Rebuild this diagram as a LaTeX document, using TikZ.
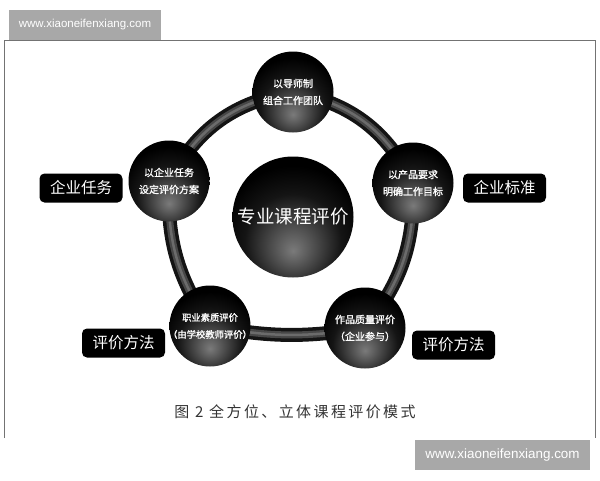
\documentclass[tikz,border=0pt]{standalone}
\usepackage{fontspec}
\setmainfont{Noto Sans CJK SC}
\newfontfamily\capfont[LetterSpace=16]{Noto Sans CJK SC}
\newfontfamily\ballfont[FakeBold=1.2]{Noto Sans CJK SC}
\newfontfamily\wmfont{Liberation Sans}
\usetikzlibrary{backgrounds}
\pgfdeclareradialshading{sphereshade}{\pgfpoint{0bp}{-14bp}}{color(0bp)=(black!52); color(6bp)=(black!64); color(20bp)=(black!92); color(30bp)=(black); color(80bp)=(black)}
\begin{document}
\begin{tikzpicture}[x=1pt,y=-1pt,
    sphere/.style={circle,shading=sphereshade,text=white,align=center,inner sep=0pt,minimum size=81pt,font=\ballfont\fontsize{10}{17}\selectfont},
    hub/.style={sphere,minimum size=121pt,font=\fontsize{18.5}{20}\selectfont},
    tagbox/.style={fill=black,rounded corners=5pt,text=white,inner sep=0pt,minimum width=83pt,minimum height=29pt,font=\fontsize{15.5}{16}\selectfont},
    ringline/.style={line width=14pt,black!92},
    watermark/.style={fill=black!34,text=white,inner sep=0pt,minimum height=30pt}]
    \useasboundingbox (0,0) rectangle (600,480);

    % spheres
    \node[hub]    (eval)     at (293,217) {专业课程评价};
    \node[sphere] (team)     at (293,92)  {以导师制\\组合工作团队};
    \node[sphere] (goal)     at (413,183) {以产品要求\\明确工作目标};
    \node[sphere] (quality)  at (365,328) {作品质量评价\\（企业参与）};
    \node[sphere,inner sep=-5pt,font=\ballfont\fontsize{9.3}{17}\selectfont]
                  (literacy) at (210,326) {职业素质评价\\（由学校教师评价）};
    \node[sphere] (task)     at (169,181) {以企业任务\\设定评价方案};

    % tags
    \node[tagbox] (taskbox) at (81,188)    {企业任务};
    \node[tagbox] (stdbox)  at (504.5,188) {企业标准};
    \node[tagbox] (methodL) at (123.5,343) {评价方法};
    \node[tagbox] (methodR) at (453.5,345) {评价方法};

    \node[text=black!80] (caption) at (295,412)
        {\capfont\fontsize{15}{16}\selectfont 图 2 全方位、立体课程评价模式};

    % watermarks
    \node[watermark,minimum width=152pt,font=\wmfont\fontsize{11.5}{12}\selectfont]
        (wmtop) at (85,25) {www.xiaoneifenxiang.com};
    \node[watermark,minimum width=175pt,font=\wmfont\fontsize{13.4}{14}\selectfont]
        (wmbottom) at (502.5,455) {www.xiaoneifenxiang.com};

    \begin{scope}[on background layer]
        \draw[black!55,line width=0.8pt] (4,438) -- (4,40.5) -- (595,40.5) -- (595,438);
        \draw[ringline] (team.center) to[bend left=26] (goal.center)
                        to[bend left=20] (quality.center)
                        to[bend left=10] (literacy.center)
                        to[bend left=18] (task.center)
                        to[bend left=26] (team.center);
        \draw[line width=7pt,black!72] (team.center) to[bend left=26] (goal.center)
                        to[bend left=20] (quality.center)
                        to[bend left=10] (literacy.center)
                        to[bend left=18] (task.center)
                        to[bend left=26] (team.center);
        \draw[line width=2.5pt,black!58] (team.center) to[bend left=26] (goal.center)
                        to[bend left=20] (quality.center)
                        to[bend left=10] (literacy.center)
                        to[bend left=18] (task.center)
                        to[bend left=26] (team.center);
    \end{scope}
\end{tikzpicture}
\end{document}
